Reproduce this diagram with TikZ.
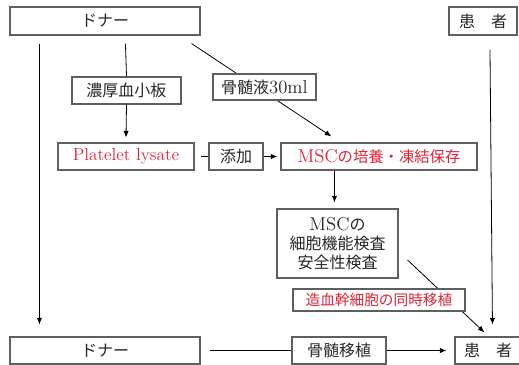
\documentclass[tikz,border=0pt]{standalone}
\usepackage{fontspec}
\newfontfamily\jp{Noto Sans CJK JP}
\newcommand\lat[1]{{\fontsize{14pt}{16pt}\selectfont #1}}
\usetikzlibrary{calc,arrows.meta}
\definecolor{boxgray}{RGB}{95,95,95}
\definecolor{txtred}{RGB}{225,35,55}
\definecolor{txtdark}{RGB}{40,40,40}
\begin{document}
\begin{tikzpicture}[x=0.75pt,y=-0.75pt,
  box/.style={draw=boxgray,line width=0.8pt,inner sep=0pt,align=center,fill=white,
    text=txtdark,font=\fontsize{12pt}{14pt}\selectfont},
  sz/.style 2 args={minimum width=#1*0.75pt,minimum height=#2*0.75pt},
  red/.style={text=txtred},
  conn/.style={line width=0.6pt,draw=black},
  arr/.style={conn,-{Latex[length=5pt,width=4pt]}}]
\useasboundingbox (0,0) rectangle (519,365);

% nodes
\node[box,sz={190}{28}] (donorTop) at (105,21) {\jp ドナー};
\node[box,sz={68}{28}] (patientTop) at (483,21) {\jp 患　者};
\node[box,sz={109}{27}] (thick) at (126.5,90.5) {\jp 濃厚血小板};
\node[box,sz={136}{27},red,font=\fontsize{13pt}{15pt}\selectfont] (pl) at (126,156.5) {Platelet lysate};
\node[box,sz={54}{27}] (add) at (236,156.5) {\jp 添加};
\node[box,sz={196}{27},red,font=\fontsize{11.5pt}{13pt}\selectfont] (msc) at (379,156.5) {\lat{MSC}{\jp の培養・凍結保存}};
\node[box,sz={121}{69},font=\fontsize{12pt}{14.5pt}\selectfont] (test) at (337.5,243.5) {\lat{MSC}{\jp の}\\{\jp 細胞機能検査}\\{\jp 安全性検査}};
\node[box,sz={190}{27}] (donorBot) at (105,350.5) {\jp ドナー};
\node[box,sz={94}{27}] (bmt) at (339,350.5) {\jp 骨髄移植};
\node[box,sz={66}{27}] (patientBot) at (488,350.5) {\jp 患　者};

% lines passing behind label boxes
\draw[arr] ($(donorTop.south east)+(-9,8)$) -- ($(msc.north west)+(51,-6)$);
\draw[arr] ($(test.east)+(9,16.5)$) -- ($(patientBot.north west)+(30,-4)$);
\node[box,sz={103}{26}] (bm) at (264.5,87) {{\jp 骨髄液}\lat{30ml}};
\node[box,sz={172}{22},red,font=\fontsize{11pt}{13pt}\selectfont] (sim) at (379,300) {\jp 造血幹細胞の同時移植};

% other connectors
\draw[arr] ($(donorTop.south west)+(30,8)$) -- ($(donorBot.north west)+(30,-12)$);
\draw[conn] ($(donorTop.south west)+(116,8)$) -- (thick.north);
\draw[arr] (thick.south) -- ($(pl.north)+(0,-5)$);
\draw[conn] ($(pl.east)+(6,0)$) -- (add.west);
\draw[arr] (add.east) -- ($(msc.west)+(-3,0)$);
\draw[arr] ($(msc.south west)+(54,0)$) -- ($(test.north west)+(58,-6)$);
\draw[arr] ($(patientTop.south)+(7,14)$) -- ($(patientBot.north west)+(38,-12)$);
\draw[conn] ($(donorBot.east)+(9,0)$) -- (bmt.west);
\draw[arr] (bmt.east) -- ($(patientBot.west)+(-8,0)$);
\end{tikzpicture}
\end{document}
